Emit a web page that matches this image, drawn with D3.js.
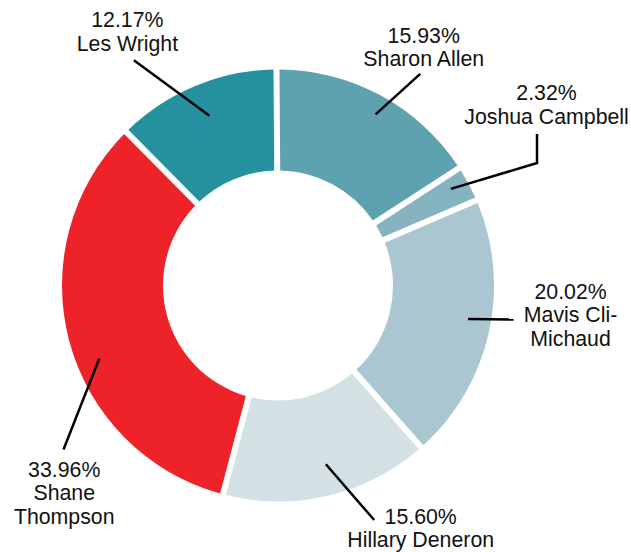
<!DOCTYPE html>
<html>
<head>
<meta charset="utf-8">
<script src="https://cdn.jsdelivr.net/npm/d3@7"></script>
<style>
  body { margin: 0; background: #fff; }
  text { font-family: Arial, "Liberation Sans", sans-serif; font-size: 21.3px; fill: #111; }
</style>
</head>
<body>
<script>
// slice data, clockwise from 12 o'clock
var names = ["Sharon Allen", "Joshua Campbell", "Mavis Cli-Michaud", "Hillary Deneron", "Shane Thompson", "Les Wright"];
var shares = [15.93, 2.32, 20.02, 15.60, 33.96, 12.17];
var labelLines = [
  ["15.93%", "Sharon Allen"],
  ["2.32%", "Joshua Campbell"],
  ["20.02%", "Mavis Cli-", "Michaud"],
  ["15.60%", "Hillary Deneron"],
  ["33.96%", "Shane", "Thompson"],
  ["12.17%", "Les Wright"]
];
var colors = ["#5fa2af", "#86b3c0", "#aac6d0", "#d3e0e4", "#ee2229", "#25919f"];

// leader line layout: polar angle (deg) / radius for both ends, text offset from outer end
var leaders = [
  {a0: 29.7, r0: 197, a1: 33.9, r1: 255, dx: 3.5, dy: -31},
  {a0: 60.8, r0: 198, a1: 64.7, r1: 286.5, up: 29, dx: 9.5, dy: -34},
  {a0: 100, r0: 193, a1: 98.2, r1: 238, dx: 57, dy: -20.5},
  {a0: 165, r0: 185, a1: 157.7, r1: 253.5, dx: 46.5, dy: 3.5},
  {a0: 247.8, r0: 193, a1: 232.6, r1: 270, dx: 0.7, dy: 27.5},
  {a0: 338, r0: 183, a1: 327.4, r1: 267.5, dx: -6.5, dy: -33}
];

var W = 631, H = 552;
var cx = 278, cy = 285.5;
var rOuter = 216, rInner = 115, gap = 6;
var lineH = 23.5;
var rot = -0.4 * Math.PI / 180;

var svg = d3.select("body").append("svg")
  .attr("width", W)
  .attr("height", H);

var g = svg.append("g").attr("transform", "translate(" + cx + "," + cy + ")");

var pie = d3.pie().sort(null).value(function(d) { return d; })
  .startAngle(rot).endAngle(2 * Math.PI + rot)
  .padAngle(gap / rOuter);
var arc = d3.arc().innerRadius(rInner).outerRadius(rOuter).padRadius(rOuter);

var arcs = pie(shares);

g.selectAll("path.slice")
  .data(arcs)
  .enter()
  .append("path")
  .attr("class", "slice")
  .attr("d", arc)
  .attr("fill", function(d, i) { return colors[i]; });

function polar(a, r) {
  var t = a * Math.PI / 180;
  return [r * Math.sin(t), -r * Math.cos(t)];
}

//leader lines + labels
arcs.forEach(function(d, i) {
  var L = leaders[i];
  var p0 = polar(L.a0, L.r0), p1 = polar(L.a1, L.r1);
  var pts = [p0, p1];
  var tip = p1;
  if (L.up) { tip = [p1[0], p1[1] - L.up]; pts.push(tip); }
  g.append("path")
    .attr("d", d3.line()(pts))
    .attr("fill", "none")
    .attr("stroke", "#000")
    .attr("stroke-width", 2.5);

  var t = g.append("text")
    .attr("text-anchor", "middle")
    .attr("x", tip[0] + L.dx)
    .attr("y", tip[1] + L.dy);
  labelLines[i].forEach(function(s, k) {
    t.append("tspan")
      .attr("x", tip[0] + L.dx)
      .attr("y", tip[1] + L.dy + k * lineH)
      .text(s);
  });
});
</script>
</body>
</html>
